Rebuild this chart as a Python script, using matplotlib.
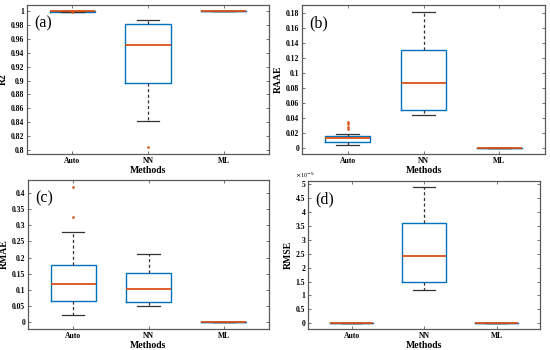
import matplotlib
matplotlib.use("Agg")
import matplotlib.pyplot as plt
from matplotlib.ticker import MultipleLocator, FuncFormatter

plt.rcParams['font.family'] = ['Liberation Serif', 'DejaVu Serif']

methods = ["Auto", "NN", "ML"]

# Box statistics per panel: [Auto, NN, ML]
r2_whislo = [0.9990, 0.841, 1.0]
r2_q1     = [0.9993, 0.896, 1.0]
r2_med    = [0.9997, 0.952, 1.0]
r2_q3     = [1.0000, 0.982, 1.0]
r2_whishi = [1.0000, 0.988, 1.0]
r2_fliers = [[0.9982], [0.804], []]

raae_whislo = [0.005, 0.044, 0.0]
raae_q1     = [0.009, 0.051, 0.0]
raae_med    = [0.014, 0.086, 0.0]
raae_q3     = [0.017, 0.131, 0.0]
raae_whishi = [0.019, 0.181, 0.0]
raae_fliers = [[0.025, 0.028, 0.032, 0.035], [], []]

rmae_whislo = [0.022, 0.050, 0.0]
rmae_q1     = [0.066, 0.063, 0.0]
rmae_med    = [0.117, 0.103, 0.0]
rmae_q3     = [0.177, 0.153, 0.0]
rmae_whishi = [0.280, 0.210, 0.0]
rmae_fliers = [[0.325, 0.417], [], []]

# RMSE in units of 1e-5
rmse_whislo = [0.0, 1.2, 0.0]
rmse_q1     = [0.0, 1.5, 0.0]
rmse_med    = [0.0, 2.4, 0.0]
rmse_q3     = [0.0, 3.6, 0.0]
rmse_whishi = [0.0, 4.9, 0.0]
rmse_fliers = [[], [], []]

BLUE = '#0072BD'
ORANGE = '#D95319'
GRAY = '#5a5a5a'

fig = plt.figure(figsize=(5.5, 3.5), dpi=100)
W, H = 550, 350
def pax(l, t, r, b):
    return fig.add_axes([l / W, 1 - b / H, (r - l) / W, (b - t) / H])

axes = [pax(27, 5, 269, 154), pax(302, 5, 545, 154),
        pax(28, 180, 269, 329), pax(308, 181, 540, 329)]

panels = [
    ("R2", "(a)", (r2_whislo, r2_q1, r2_med, r2_q3, r2_whishi, r2_fliers), (0.794, 1.009), 0.02),
    ("RAAE", "(b)", (raae_whislo, raae_q1, raae_med, raae_q3, raae_whishi, raae_fliers), (-0.0075, 0.190), 0.02),
    ("RMAE", "(c)", (rmae_whislo, rmae_q1, rmae_med, rmae_q3, rmae_whishi, rmae_fliers), (-0.021, 0.44), 0.05),
    ("RMSE", "(d)", (rmse_whislo, rmse_q1, rmse_med, rmse_q3, rmse_whishi, rmse_fliers), (-0.2, 5.1), 0.5),
]

def fmt(v, pos):
    s = ("%.4f" % v).rstrip('0').rstrip('.')
    if s == "-0":
        s = "0"
    return s

for ax, (ylab, tag, st, ylim, step) in zip(axes, panels):
    wl, q1, md, q3, wh, fl = st
    stats = []
    for i in range(3):
        stats.append(dict(whislo=wl[i], q1=q1[i], med=md[i], q3=q3[i],
                          whishi=wh[i], fliers=fl[i], label=methods[i]))
    ax.bxp(stats, positions=[1, 2, 3], widths=0.6, showfliers=True,
           boxprops=dict(color=BLUE, linewidth=1.0),
           medianprops=dict(color=ORANGE, linewidth=1.3, zorder=5),
           whiskerprops=dict(color='#333333', linewidth=0.9, linestyle=(0, (2.5, 2))),
           capprops=dict(color='#333333', linewidth=0.9),
           capwidths=0.3,
           flierprops=dict(marker='.', markersize=1.8, markerfacecolor=ORANGE,
                           markeredgecolor=ORANGE, linestyle='none', zorder=6))
    ax.set_xlim(0.4, 3.6)
    ax.set_ylim(*ylim)
    ax.yaxis.set_major_locator(MultipleLocator(step))
    ax.yaxis.set_major_formatter(FuncFormatter(fmt))
    ax.set_xticks([1, 2, 3])
    ax.set_xticklabels(methods)
    ax.tick_params(direction='in', top=True, right=True, length=2.5, width=0.6,
                   color=GRAY, labelsize=5.5, pad=2)
    for lbl in ax.get_xticklabels() + ax.get_yticklabels():
        lbl.set_fontweight('bold')
    for sp in ax.spines.values():
        sp.set_color(GRAY)
        sp.set_linewidth(0.9)
    ax.set_xlabel("Methods", fontsize=7, fontweight='bold', labelpad=1)
    ax.set_ylabel(ylab, fontsize=7, fontweight='bold', labelpad=2)
    ax.text(0.03, 0.93, tag, transform=ax.transAxes, fontsize=11.5,
            ha='left', va='top')

axes[3].text(-0.055, 1.005, r"$\times$10$^{-5}$", transform=axes[3].transAxes,
             fontsize=4.5, ha='left', va='bottom')

fig.savefig("out.png", dpi=100)
